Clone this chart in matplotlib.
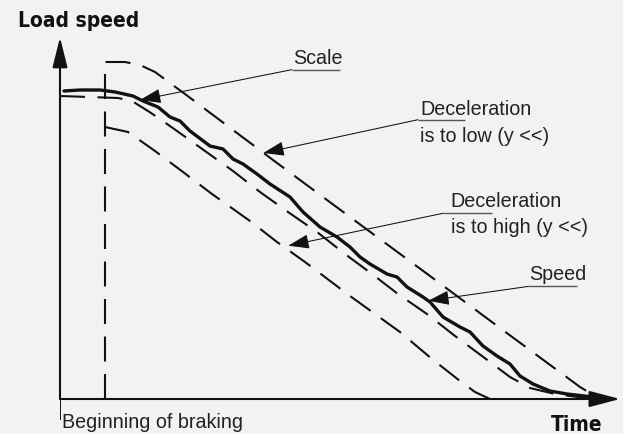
import matplotlib
matplotlib.use("Agg")
import matplotlib.pyplot as plt
import matplotlib.font_manager as fm

plt.rcParams["lines.scale_dashes"] = False

# ---- curves (time, load speed) in arbitrary units ----
braking_t = 4.5          # instant the brake is applied

# measured load speed (wavy solid line)
speed_t = [0.4, 2.0, 4.0, 5.5, 7.3, 8.3, 9.8, 11.0, 12.0, 13.0, 15.0, 16.3, 17.3,
           18.3, 19.7, 21.0, 23.0, 24.3, 26.0, 27.7, 29.0, 30.0, 31.0, 32.7, 33.7,
           34.7, 36.3, 37.0, 38.3, 40.0, 41.0, 42.3, 43.7, 45.0, 46.0, 47.3, 49.0,
           50.7, 53.3, 55.0]
speed_v = [30.8, 30.9, 30.9, 30.7, 30.3, 29.8, 29.2, 28.2, 27.8, 26.8, 25.3, 25.0,
           24.0, 23.5, 22.5, 21.5, 20.2, 18.7, 17.2, 16.2, 15.2, 14.2, 13.5, 12.5,
           12.2, 11.2, 10.2, 9.7, 8.2, 7.2, 6.7, 5.3, 4.3, 3.5, 2.3, 1.5, 0.8, 0.5,
           0.2, 0.0]

# scale reference ramp (dashed, just under the speed)
scale_t = [0.0, 5.8, 7.2, 8.8, 10.0, 11.7, 14.5, 17.3, 20.0, 22.8, 25.7, 28.5,
           31.2, 33.8, 36.7, 39.5, 42.2, 45.0, 47.0, 49.5, 52.5, 54.0]
scale_v = [30.3, 30.1, 29.8, 28.8, 28.0, 26.8, 24.8, 22.8, 20.7, 18.7, 16.7, 14.5,
           12.5, 10.5, 8.5, 6.3, 4.3, 2.2, 1.1, 0.5, 0.1, 0.0]

# deceleration too low (upper dashed ramp)
slow_t = [4.5, 6.5, 8.0, 9.5, 11.0, 12.5, 21.3, 29.0, 37.0, 44.0, 52.0, 53.5, 54.5]
slow_v = [33.7, 33.7, 33.4, 32.7, 31.6, 30.5, 23.9, 18.2, 12.3, 7.1, 1.2, 0.3, 0.0]

# deceleration too high (lower dashed ramp)
fast_t = [4.5, 6.8, 7.8, 9.5, 12.3, 15.2, 19.0, 21.7, 24.5, 29.0, 34.0, 37.2,
          40.0, 41.5, 43.0]
fast_v = [27.2, 26.7, 26.0, 24.8, 22.7, 20.5, 17.8, 15.7, 13.7, 10.3, 6.7, 4.0,
          1.8, 0.7, 0.0]

# ---- callouts: text lines, text anchor, underline span, arrow target ----
callout_lines = [["Scale"],
                 ["Deceleration", "is to low (y <<)"],
                 ["Deceleration", "is to high (y <<)"],
                 ["Speed"]]
callout_text_xy = [(23.27, 33.6), (36.0, 28.5), (39.07, 19.33), (46.9, 12.0)]
callout_underline = [(23.17, 28.0, 32.93), (35.8, 40.5, 27.93),
                     (38.3, 43.17, 18.57), (46.9, 51.67, 11.27)]
callout_target = [(8.0, 29.9), (20.33, 24.6), (22.83, 15.33), (36.83, 9.83)]
line_step = 2.65

y_label = "Load speed"
x_label = "Time"
start_label = "Beginning of braking"

# ---- fonts ----
names = {f.name for f in fm.fontManager.ttflist}
text_family = "Liberation Sans" if "Liberation Sans" in names else "DejaVu Sans"


def narrow_bold():
    """Pick the narrowest bold sans face that is installed."""
    fonts = fm.fontManager.ttflist
    for f in fonts:
        if f.name == "Liberation Sans Narrow" and f.weight in (700, "bold"):
            return fm.FontProperties(fname=f.fname), 16.8
    for f in fonts:
        low = f.fname.lower()
        if ("condensed" in low or "narrow" in low) and "bold" in low \
                and "oblique" not in low and "italic" not in low:
            return fm.FontProperties(fname=f.fname), 15.0
    return fm.FontProperties(family=text_family, weight="bold"), 14.0


bold_prop, bold_size = narrow_bold()
bold_prop.set_size(bold_size)

BG = "#f2f2f2"
INK = "#111111"
TXT = "#222222"
DASH = (0, (18, 9))

fig = plt.figure(figsize=(6.23, 4.35), dpi=100, facecolor=BG)
ax = fig.add_axes([0, 0, 1, 1])
ax.set_facecolor(BG)
ax.set_xlim(-6.0, 56.3)
ax.set_ylim(-3.5, 40.0)
ax.axis("off")

# axes with arrow heads
ax.annotate("", xy=(0, 36.17), xytext=(0, 0),
            arrowprops=dict(arrowstyle="-|>,head_length=1.85,head_width=0.46",
                            lw=1.5, color=INK, shrinkA=0, shrinkB=0,
                            mutation_scale=10))
ax.annotate("", xy=(56.0, 0), xytext=(0, 0),
            arrowprops=dict(arrowstyle="-|>,head_length=1.9,head_width=0.5",
                            lw=1.5, color=INK, shrinkA=0, shrinkB=0,
                            mutation_scale=10))

# braking instant with the "too low" ramp drawn as one dashed path
ax.plot([braking_t] + slow_t, [0.0] + slow_v, color=INK, lw=1.5,
        linestyle=DASH, dash_joinstyle="miter")
ax.plot(scale_t, scale_v, color=INK, lw=1.5, linestyle=DASH)
ax.plot(fast_t, fast_v, color=INK, lw=1.5, linestyle=DASH)
ax.plot(speed_t, speed_v, color=INK, lw=2.4, solid_joinstyle="round",
        solid_capstyle="round")

# callouts
for lines, (tx, ty), (u0, u1, uy), tip in zip(callout_lines, callout_text_xy,
                                              callout_underline, callout_target):
    for k, s in enumerate(lines):
        ax.text(tx, ty - k * line_step, s, ha="left", va="baseline",
                fontsize=14.2, family=text_family, color=TXT)
    ax.plot([u0, u1], [uy, uy], color="#555555", lw=1.0, solid_capstyle="butt")
    ax.annotate("", xy=tip, xytext=(u0, uy),
                arrowprops=dict(arrowstyle="-|>,head_length=1.3,head_width=0.45",
                                lw=0.75, color=INK, shrinkA=0, shrinkB=0,
                                mutation_scale=10))

# axis titles
ax.text(-4.2, 37.3, y_label, ha="left", va="baseline",
        fontproperties=bold_prop, color=INK)
ax.text(54.2, -3.15, x_label, ha="right", va="baseline",
        fontproperties=bold_prop, color=INK)

# start-of-braking marker below the time axis
ax.plot([0, 0], [0, -2.0], color=INK, lw=0.7)
ax.text(0.25, -2.83, start_label, ha="left", va="baseline", fontsize=14.2,
        family=text_family, color=TXT)

fig.savefig("out.png", dpi=100, facecolor=BG)
